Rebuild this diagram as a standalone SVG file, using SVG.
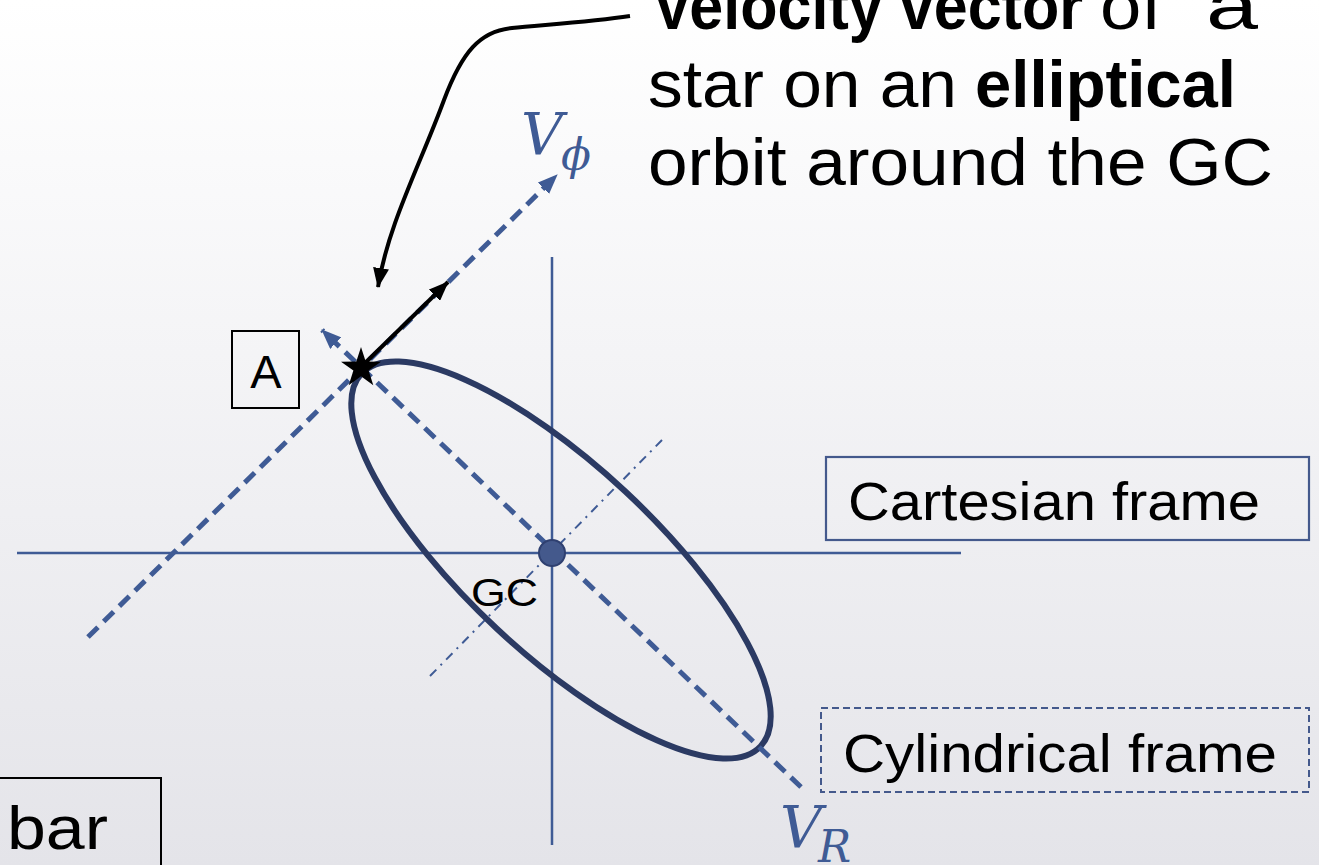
<svg xmlns="http://www.w3.org/2000/svg" width="1319" height="865" viewBox="0 0 1319 865">
  <defs>
    <linearGradient id="bg" x1="0" y1="0" x2="0" y2="1">
      <stop offset="0" stop-color="#ffffff"/>
      <stop offset="1" stop-color="#e4e4e9"/>
    </linearGradient>
    <marker id="blueHead" markerUnits="userSpaceOnUse" viewBox="0 0 20 16" markerWidth="20" markerHeight="16" refX="19" refY="8" orient="auto">
      <path d="M0,0 L20,8 L0,16 z" fill="#3f5b95"/>
    </marker>
    <marker id="blackHead" markerUnits="userSpaceOnUse" viewBox="0 0 20 16" markerWidth="20" markerHeight="16" refX="19" refY="8" orient="auto">
      <path d="M0,0 L20,8 L0,16 z" fill="#000000"/>
    </marker>
    <style>
      .axis { stroke: #3f5b95; stroke-width: 2.5; fill: none; }
      .vaxis { stroke: #3f5b95; stroke-width: 5; fill: none; stroke-dasharray: 14 8; }
      .dashdot { stroke: #3f5b95; stroke-width: 2; fill: none; stroke-dasharray: 9 6 2 6; }
      .orbit { stroke: #2b3a63; stroke-width: 6; fill: none; }
      .black { stroke: #000; stroke-width: 4; fill: none; }
      .txt { font-family: "Liberation Sans", "DejaVu Sans", sans-serif; fill: #000; }
      .bold { font-weight: bold; }
      .math { font-family: "DejaVu Serif", "Liberation Serif", serif; font-style: italic; fill: #3f5b95; }
      .box { fill: none; stroke: #000; stroke-width: 2; }
      .bbox { fill: none; stroke: #44598c; stroke-width: 2.2; }
      .dbox { fill: none; stroke: #44598c; stroke-width: 2; stroke-dasharray: 7 4; }
    </style>
  </defs>

  <rect x="0" y="0" width="1319" height="865" fill="url(#bg)"/>

  <g id="connectors">
    <!-- Cartesian axes -->
    <line class="axis" x1="17" y1="553" x2="961" y2="553"/>
    <line class="axis" x1="552" y1="257" x2="552" y2="845"/>
    <!-- rotated dash-dot axis -->
    <line class="dashdot" x1="430" y1="676" x2="662" y2="440"/>
    <!-- orbit -->
    <ellipse class="orbit" cx="561" cy="560" rx="273" ry="94" transform="rotate(43 561 560)"/>
    <!-- V_R axis -->
    <line class="vaxis" x1="801" y1="787" x2="322" y2="330" marker-end="url(#blueHead)"/>
    <!-- V_phi axis -->
    <line class="vaxis" x1="88" y1="637" x2="557" y2="175" marker-end="url(#blueHead)"/>
    <!-- velocity vector -->
    <line class="black" x1="362" y1="366" x2="448" y2="282" marker-end="url(#blackHead)"/>
    <!-- callout arrow -->
    <path class="black" d="M630,16 C590,22 540,25 512,28 C480,31 462,52 444,100 C420,165 388,225 378,287" marker-end="url(#blackHead)"/>
  </g>

  <g id="star">
    <polygon points="361,347 365.7,361.5 381,361.8 368.6,370.6 373.3,385.2 361,376.3 348.7,385.2 353.4,370.6 341,361.8 356.3,361.5" fill="#000"/>
  </g>

  <g id="gc">
    <circle cx="552" cy="553" r="13" fill="#44598c" stroke="#2f4070" stroke-width="2"/>
    <text class="txt" x="471" y="606" font-size="38" textLength="67" lengthAdjust="spacingAndGlyphs">GC</text>
  </g>

  <g id="label-A">
    <rect class="box" x="232" y="331" width="67" height="77"/>
    <text class="txt" x="266" y="388" font-size="47" text-anchor="middle">A</text>
  </g>

  <g id="label-bar">
    <rect class="box" x="-10" y="778" width="171" height="100"/>
    <text class="txt" x="7" y="849" font-size="62" textLength="101" lengthAdjust="spacingAndGlyphs">bar</text>
  </g>

  <g id="cartesian-frame">
    <rect class="bbox" x="826" y="457" width="483" height="83"/>
    <text class="txt" x="848" y="520" font-size="53" textLength="412" lengthAdjust="spacingAndGlyphs">Cartesian frame</text>
  </g>

  <g id="cylindrical-frame">
    <rect class="dbox" x="821" y="708" width="488" height="84"/>
    <text class="txt" x="843" y="772" font-size="53" textLength="434" lengthAdjust="spacingAndGlyphs">Cylindrical frame</text>
  </g>

  <g id="label-vphi">
    <text class="math" x="521" y="154" font-size="58">V</text>
    <text class="math" x="561" y="170" font-size="44">ϕ</text>
  </g>

  <g id="label-vr">
    <text class="math" x="780" y="847" font-size="58">V</text>
    <text class="math" x="818" y="862" font-size="44">R</text>
  </g>

  <g id="caption">
    <text class="txt bold" x="652" y="29" font-size="67" textLength="431" lengthAdjust="spacingAndGlyphs">Velocity vector</text>
    <text class="txt" x="1100" y="29" font-size="67" textLength="62" lengthAdjust="spacingAndGlyphs">of</text>
    <text class="txt" x="1206" y="29" font-size="67" textLength="52" lengthAdjust="spacingAndGlyphs">a</text>
    <text class="txt" x="648" y="107" font-size="67" textLength="309" lengthAdjust="spacingAndGlyphs">star on an</text>
    <text class="txt bold" x="975" y="107" font-size="67" textLength="261" lengthAdjust="spacingAndGlyphs">elliptical</text>
    <text class="txt" x="648" y="185" font-size="67" textLength="625" lengthAdjust="spacingAndGlyphs">orbit around the GC</text>
  </g>
</svg>
